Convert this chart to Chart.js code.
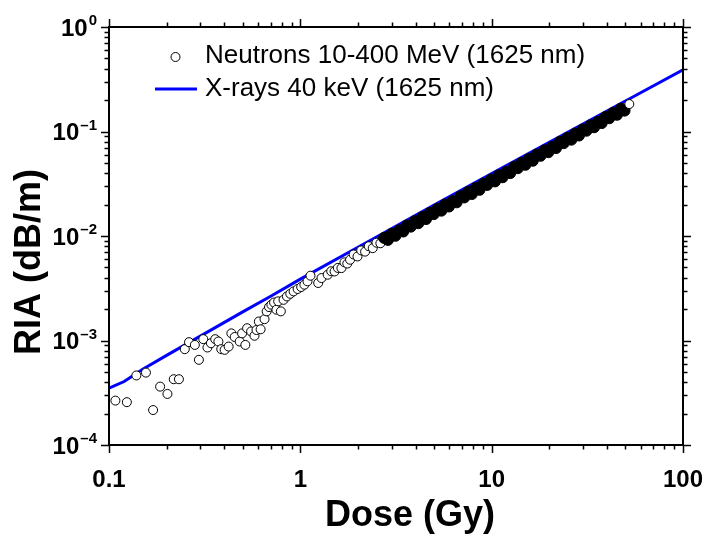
<!DOCTYPE html>
<html>
<head>
<meta charset="utf-8">
<script src="https://cdn.jsdelivr.net/npm/chart.js@4.4.1/dist/chart.umd.min.js"></script>
<style>
    html, body { margin: 0; padding: 0; background: #fff; }
    #contenedor { width: 705px; height: 543px; }
</style>
</head>
<body>
<div id="contenedor"><canvas id="graficoRIA" width="705" height="543"></canvas></div>
<script>
// ===================================== Datos ==================
var dosisNeutrones = [
    0.108, 0.124, 0.139, 0.156, 0.170, 0.185, 0.202, 0.218, 0.232, 0.249,
    0.262, 0.281, 0.295, 0.311, 0.327, 0.341, 0.359, 0.373, 0.386, 0.402,
    0.422, 0.436, 0.454, 0.482, 0.496, 0.516, 0.527, 0.553, 0.576, 0.590,
    0.607, 0.620, 0.650, 0.667, 0.686, 0.706, 0.729, 0.750, 0.766, 0.791,
    0.817, 0.851, 0.886, 0.922, 0.968, 1.01, 1.05, 1.09, 1.13, 1.24,
    1.29, 1.39, 1.45, 1.51, 1.57, 1.64, 1.70, 1.76, 1.82,
    1.90, 1.99, 2.08, 2.18, 2.28, 2.39, 2.50, 2.62, 2.74, 2.87,
    3.00, 3.14, 3.29, 3.45, 3.61, 3.78, 3.96, 4.14, 4.34, 4.54,
    4.75, 4.98, 5.21, 5.46, 5.71, 5.98, 6.26, 6.56, 6.87, 7.19,
    7.53, 7.88, 8.25, 8.64, 9.05, 9.47, 9.92, 10.4, 10.9, 11.4,
    11.9, 12.5, 13.1, 13.7, 14.3, 15.0, 15.7, 16.4, 17.2, 18.0,
    18.9, 19.8, 20.7, 21.7, 22.7, 23.8, 24.9, 26.1, 27.3, 28.6,
    29.9, 31.3, 32.8, 34.3, 35.9, 37.6, 39.4, 41.2, 43.2, 45.2,
    47.3, 49.5, 52.4
];
var riaNeutrones = [
    2.66e-4, 2.57e-4, 4.63e-4, 4.93e-4, 2.16e-4, 3.62e-4, 3.08e-4, 4.26e-4, 4.26e-4, 8.26e-4,
    9.64e-4, 9.07e-4, 6.53e-4, 1.03e-3, 8.57e-4, 9.42e-4, 1.03e-3, 9.78e-4, 8.26e-4, 8.14e-4,
    8.75e-4, 1.17e-3, 1.08e-3, 9.78e-4, 1.17e-3, 9.07e-4, 1.31e-3, 1.22e-3, 1.11e-3, 1.26e-3,
    1.52e-3, 1.28e-3, 1.60e-3, 1.90e-3, 2.09e-3, 2.20e-3, 2.31e-3, 1.97e-3, 2.37e-3, 1.90e-3,
    2.45e-3, 2.64e-3, 2.80e-3, 2.95e-3, 3.11e-3, 3.25e-3, 3.42e-3, 3.68e-3, 4.17e-3, 3.55e-3,
    3.96e-3, 4.26e-3, 4.60e-3, 4.58e-3, 4.95e-3, 4.93e-3, 5.60e-3, 5.45e-3, 5.93e-3,
    0.00665, 0.00637, 0.00728, 0.00709, 0.00798, 0.00765, 0.00863, 0.00852, 0.00959, 0.00918,
    0.0105, 0.01005, 0.01135, 0.01104, 0.01264, 0.01229, 0.01386, 0.01325, 0.01519, 0.01453,
    0.01663, 0.01619, 0.01824, 0.01747, 0.0200, 0.01914, 0.0216, 0.0210, 0.02405, 0.02337,
    0.02636, 0.02522, 0.02888, 0.02765, 0.03168, 0.03078, 0.03472, 0.03328, 0.03815, 0.03648,
    0.04106, 0.0400, 0.04585, 0.04453, 0.05005, 0.0480, 0.05495, 0.05248, 0.0602, 0.0585,
    0.06615, 0.06336, 0.0714, 0.06944, 0.07945, 0.07735, 0.08715, 0.08352, 0.09555, 0.09152,
    0.1047, 0.1017, 0.1148, 0.1098, 0.1239, 0.1203, 0.1379, 0.1339, 0.1512, 0.1446,
    0.1656, 0.1584, 0.183
];

var dosisRayosX = [0.1, 0.12, 0.15, 0.2, 0.3, 0.5, 0.7, 1, 2, 5, 10, 20, 50, 100];
var riaRayosX   = [3.5e-4, 4.05e-4, 5.3e-4, 7.2e-4, 1.1e-3, 1.88e-3, 2.65e-3, 3.87e-3, 7.8e-3, 0.0198, 0.0395, 0.079, 0.196, 0.39];

var etiquetasX = ["0.1", "1", "10", "100"];
var valoresX = [0.1, 1, 10, 100];
var exponentesY = [-4, -3, -2, -1, 0];

var nombreNeutrones = "Neutrons 10-400 MeV (1625 nm)";
var nombreRayosX = "X-rays 40 keV (1625 nm)";

var fuente = "'Liberation Sans', Arial, sans-serif";

// a partir de esta dosis los círculos se superponen tanto que la banda se ve negra
var dosisBandaDensa = 2.7;



// ===================================== Ejes, etiquetas y leyenda dibujados a mano ==================
var pluginEjes = {
    id: 'ejesOrigin',
    afterDraw: function (chart) {
        var ctx = chart.ctx;
        var a = chart.chartArea;
        var sx = chart.scales.x;
        var sy = chart.scales.y;

        ctx.save();
        ctx.strokeStyle = '#000';
        ctx.fillStyle = '#000';

        // marco
        ctx.lineWidth = 2;
        ctx.strokeRect(a.left, a.top, a.right - a.left, a.bottom - a.top);

        // ticks (mayores y menores)
        ctx.lineWidth = 1.5;
        ctx.beginPath();
        for (var e = -1; e <= 2; e++) {
            for (var k = 1; k <= 9; k++) {
                if (e === 2 && k > 1) break;
                var px = Math.round(sx.getPixelForValue(k * Math.pow(10, e))) + 0.5;
                var largo = k === 1 ? 8 : 4.5;
                ctx.moveTo(px, a.bottom); ctx.lineTo(px, a.bottom + largo);
                ctx.moveTo(px, a.top); ctx.lineTo(px, a.top - largo);
            }
        }
        for (var e2 = -4; e2 <= 0; e2++) {
            for (var k2 = 1; k2 <= 9; k2++) {
                if (e2 === 0 && k2 > 1) break;
                var py = Math.round(sy.getPixelForValue(k2 * Math.pow(10, e2))) + 0.5;
                var largo2 = k2 === 1 ? 8 : 4.5;
                ctx.moveTo(a.left, py); ctx.lineTo(a.left - largo2, py);
                ctx.moveTo(a.right, py); ctx.lineTo(a.right + largo2, py);
            }
        }
        ctx.stroke();

        // etiquetas eje X
        ctx.font = "bold 24px " + fuente;
        ctx.textAlign = 'center';
        ctx.textBaseline = 'middle';
        valoresX.forEach(function (v, i) {
            ctx.fillText(etiquetasX[i], sx.getPixelForValue(v), a.bottom + 35);
        });

        // etiquetas eje Y con exponente
        exponentesY.forEach(function (exp) {
            var y = sy.getPixelForValue(Math.pow(10, exp));
            var sup = String(exp).replace('-', '\u2013');
            ctx.font = "bold 15px " + fuente;
            var anchoSup = ctx.measureText(sup).width;
            var xSup = a.left - 12 - anchoSup;
            ctx.textAlign = 'left';
            ctx.textBaseline = 'alphabetic';
            ctx.fillText(sup, xSup, y - 2);
            ctx.font = "bold 24px " + fuente;
            ctx.textAlign = 'right';
            ctx.textBaseline = 'middle';
            ctx.fillText("10", xSup - 1, y + 2);
        });

        // títulos de ejes
        ctx.font = "bold 36px " + fuente;
        ctx.textAlign = 'center';
        ctx.textBaseline = 'middle';
        ctx.fillText("Dose (Gy)", 410, 516);

        ctx.save();
        ctx.translate(30, 262);
        ctx.rotate(-Math.PI / 2);
        ctx.fillText("RIA (dB/m)", 0, 0);
        ctx.restore();

        // leyenda
        ctx.beginPath();
        ctx.lineWidth = 1;
        ctx.fillStyle = '#fff';
        ctx.arc(175.5, 57, 4.5, 0, Math.PI * 2);
        ctx.fill();
        ctx.stroke();

        ctx.beginPath();
        ctx.lineWidth = 3;
        ctx.strokeStyle = '#0000ff';
        ctx.moveTo(155, 89);
        ctx.lineTo(197, 89);
        ctx.stroke();

        ctx.fillStyle = '#000';
        ctx.font = "26px " + fuente;
        ctx.textAlign = 'left';
        ctx.textBaseline = 'middle';
        ctx.fillText(nombreNeutrones, 205, 56);
        ctx.fillText(nombreRayosX, 205, 89);

        ctx.restore();
    }
};



// ===================================== Gráfico RIA vs Dosis =========================
var puntosNeutrones = dosisNeutrones.map(function (d, i) { return { x: d, y: riaNeutrones[i] }; });
var puntosRayosX = dosisRayosX.map(function (d, i) { return { x: d, y: riaRayosX[i] }; });

function esPuntoDenso(c) {
    var ultimo = c.dataIndex === dosisNeutrones.length - 1;
    return !!(c.raw && c.raw.x > dosisBandaDensa && !ultimo);
}

var chartRIA = new Chart(document.getElementById("graficoRIA"), {
    type: 'scatter',
    data: {
        datasets: [{
            label: nombreNeutrones,
            data: puntosNeutrones,
            pointRadius: function (c) { return esPuntoDenso(c) ? 5.5 : 4.5; },
            pointBorderWidth: 1,
            pointBorderColor: '#000',
            pointBackgroundColor: function (c) { return esPuntoDenso(c) ? '#000' : '#fff'; }
        }, {
            label: nombreRayosX,
            data: puntosRayosX,
            showLine: true,
            borderColor: '#0000ff',
            borderWidth: 3,
            pointRadius: 0,
            fill: false
        }]
    },
    options: {
        responsive: false,
        animation: false,
        events: [],
        layout: { padding: { left: 109, top: 27, right: 22, bottom: 98 } },
        plugins: {
            legend: { display: false },
            tooltip: { enabled: false }
        },
        scales: {
            x: { type: 'logarithmic', min: 0.1, max: 100, display: false },
            y: { type: 'logarithmic', min: 1e-4, max: 1, display: false }
        }
    },
    plugins: [pluginEjes]
});
</script>
</body>
</html>
